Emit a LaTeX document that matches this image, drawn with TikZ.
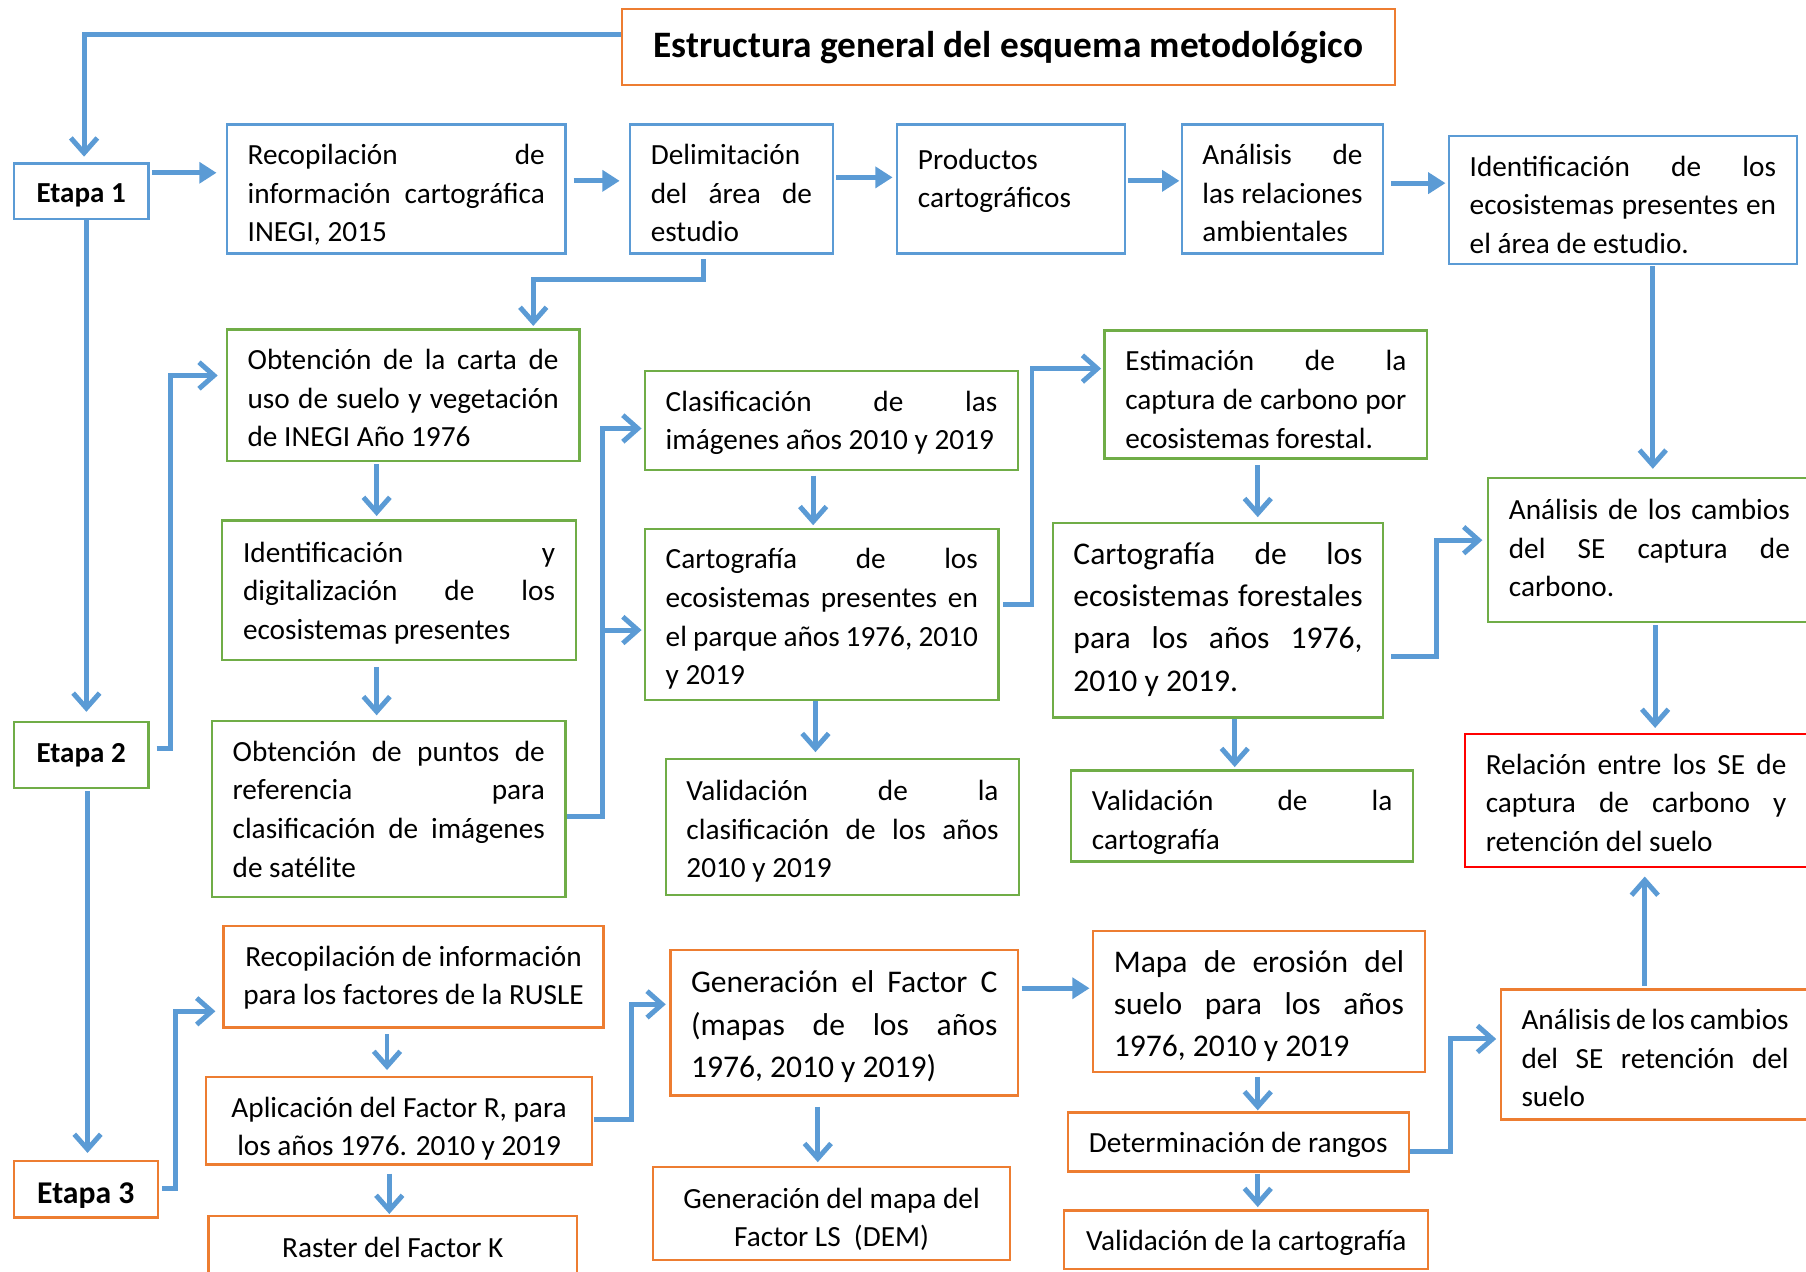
\documentclass[tikz,border=0pt]{standalone}
\usepackage{fontspec}
\setmainfont{Carlito}
\usetikzlibrary{arrows.meta}
\definecolor{cblue}{HTML}{5B9BD5}
\definecolor{cgreen}{HTML}{70AD47}
\definecolor{corange}{HTML}{ED7D31}
\definecolor{cred}{HTML}{FF0000}
\newcommand\fsm{\fontsize{25.4pt}{33.5pt}\selectfont\hyphenpenalty=10000 }
\newcommand\flg{\fontsize{27.4pt}{36.7pt}\selectfont\hyphenpenalty=10000 }
\newcommand\jl[1]{{\spaceskip=0pt\xspaceskip=0pt\makebox[\hsize][s]{#1}}}
\newcommand\nl[1]{\mbox{#1}}
\begin{document}
\begin{tikzpicture}[x={(1pt,0)},y={(0,-1pt)},
  box/.style={draw, line width=2pt, anchor=north west, inner xsep=18pt, inner ysep=0pt, font=\fsm, align=flush left, text height=35pt},
  cbox/.style={box, align=flush center, inner xsep=4pt},
  etapa/.style={draw, line width=2pt, anchor=north west, inner sep=0pt, font=\bfseries\fontsize{25.2pt}{30pt}\selectfont},
  conn/.style={draw=cblue, line width=4.3pt, line join=miter},
  barb/.style={-{Straight Barb[length=13pt,width=23pt]}},
  tri/.style={-{Triangle[length=15pt,width=18pt]}}]
\useasboundingbox (0,0) rectangle (1568,1104);

% title and stages
\node[draw=corange, line width=2pt, anchor=north west, minimum width=671pt, minimum height=66pt, inner sep=0pt, font=\bfseries\fontsize{32.4pt}{38pt}\selectfont] (title) at (539,7) {Estructura general del esquema metodológico};
\node[etapa, draw=cblue, minimum width=117pt, minimum height=48pt, text height=20pt, text depth=0pt] (e1) at (11,141) {Etapa 1};
\node[etapa, draw=cgreen, minimum width=117pt, minimum height=57pt] (e2) at (11,626) {Etapa 2};
\node[etapa, draw=corange, minimum width=125pt, minimum height=49pt, text height=25pt, text depth=0pt, font=\bfseries\fontsize{27.5pt}{32pt}\selectfont] (e3) at (11,1007) {Etapa 3};

% row 1 (blue)
\node[box, draw=cblue, text width=258pt, text depth=77pt] (recop) at (196,107) {\jl{Recopilación de}\\\jl{información cartográfica}\\\nl{INEGI, 2015}};
\node[box, draw=cblue, text width=140pt, text depth=77pt] (delim) at (546,107) {\nl{Delimitación}\\\jl{del área de}\\\nl{estudio}};
\node[box, draw=cblue, text width=162pt, text height=39pt, text depth=73pt] (prod) at (778,107) {\nl{Productos}\\\nl{cartográficos}};
\node[box, draw=cblue, text width=139pt, text depth=77pt] (anal) at (1025,107) {\jl{Análisis de}\\\jl{las relaciones}\\\nl{ambientales}};
\node[box, draw=cblue, text width=266pt, text depth=76pt] (ident) at (1257,117) {\jl{Identificación de los}\\\jl{ecosistemas presentes en}\\\nl{el área de estudio.}};

% green
\node[box, draw=cgreen, text width=270pt, text depth=79pt] (carta) at (196,285) {\jl{Obtención de la carta de}\\\jl{uso de suelo y vegetación}\\\nl{de INEGI Año 1976}};
\node[box, draw=cgreen, text width=271pt, text height=36pt, text depth=85pt] (idig) at (192,451) {\jl{Identificación y}\\\jl{digitalización de los}\\\nl{ecosistemas presentes}};
\node[box, draw=cgreen, text width=271pt, text depth=118pt] (puntos) at (183,625) {\jl{Obtención de puntos de}\\\jl{referencia para}\\\jl{clasificación de imágenes}\\\nl{de satélite}};
\node[box, draw=cgreen, text width=288pt, text depth=51pt] (clasif) at (559,321) {\jl{Clasificación de las}\\\nl{imágenes años 2010 y 2019}};
\node[box, draw=cgreen, text width=271pt, text depth=114pt] (cartp) at (559,458) {\jl{Cartografía de los}\\\jl{ecosistemas presentes en}\\\jl{el parque años 1976, 2010}\\\nl{y 2019}};
\node[box, draw=cgreen, text width=271pt, text height=36pt, text depth=82pt] (valc) at (577,658) {\jl{Validación de la}\\\jl{clasificación de los años}\\\nl{2010 y 2019}};
\node[box, draw=cgreen, text width=244pt, text depth=76pt] (estim) at (958,286) {\jl{Estimación de la}\\\jl{captura de carbono por}\\\nl{ecosistemas forestal.}};
\node[box, draw=cgreen, font=\flg, text width=251pt, text height=36pt, text depth=133pt] (cartf) at (913,453) {\jl{Cartografía de los}\\\jl{ecosistemas forestales}\\\jl{para los años 1976,}\\\nl{2010 y 2019.}};
\node[box, draw=cgreen, text width=261pt, text depth=44pt] (valcart) at (929,668) {\jl{Validación de la}\\\nl{cartografía}};
\node[box, draw=cgreen, text width=244pt, text height=36pt, text depth=89pt] (cambc) at (1291,414) {\jl{Análisis de los cambios}\\\jl{del SE captura de}\\\nl{carbono.}};
\node[box, draw=cred, text width=261pt, text depth=81pt] (rel) at (1271,636) {\jl{Relación entre los SE de}\\\jl{captura de carbono y}\\\nl{retención del suelo}};

% orange
\node[cbox, draw=corange, text width=322pt, text depth=53pt] (rusle) at (193,803) {\nl{Recopilación de información}\\\nl{para los factores de la RUSLE}};
\node[cbox, draw=corange, text width=327pt, text depth=41pt] (aplic) at (178,934) {\nl{Aplicación del Factor R, para}\\\nl{los años 1976. 2010 y 2019}};
\node[cbox, draw=corange, text width=312pt, text height=36pt, text depth=30pt] (raster) at (180,1055) {\nl{Raster del Factor K}};
\node[box, draw=corange, font=\flg, text width=266pt, text height=37pt, text depth=89pt] (genc) at (581,824) {\jl{Generación el Factor C}\\\jl{(mapas de los años}\\\nl{1976, 2010 y 2019)}};
\node[cbox, draw=corange, text width=302pt, text height=36pt, text depth=45pt] (genls) at (566,1012) {\nl{Generación del mapa del}\\\nl{Factor LS~ (DEM)}};
\node[box, draw=corange, font=\flg, text width=252pt, text height=36pt, text depth=87pt] (mapa) at (948,807) {\jl{Mapa de erosión del}\\\jl{suelo para los años}\\\nl{1976, 2010 y 2019}};
\node[cbox, draw=corange, text width=288pt, text depth=16pt] (deter) at (926,965) {\nl{Determinación de rangos}};
\node[cbox, draw=corange, text width=308pt, text depth=16pt] (valo) at (923,1050) {\nl{Validación de la cartografía}};
\node[box, draw=corange, text width=232pt, text depth=78pt] (cambr) at (1302,858) {\jl{Análisis de los cambios}\\\jl{del SE retención del}\\\nl{suelo}};

% junction coordinates
\coordinate (j1) at (523,547);

% connectors
\draw[conn,barb,shorten >=5pt] (title.west |- 0,30) -| (e1.north -| 73,0);
\draw[conn,tri,shorten <=2pt,shorten >=8pt] (e1.east |- 0,150) -- (recop.west |- 0,150);
\draw[conn,tri,shorten <=6pt,shorten >=8pt] (recop.east |- 0,157) -- (delim.west |- 0,157);
\draw[conn,tri,shorten <=2pt,shorten >=3pt] (delim.east |- 0,154) -- (prod.west |- 0,154);
\draw[conn,tri,shorten <=1pt,shorten >=1pt] (prod.east |- 0,157) -- (anal.west |- 0,157);
\draw[conn,tri,shorten <=6pt,shorten >=2pt] (anal.east |- 0,159) -- (ident.west |- 0,159);
\draw[conn,barb,shorten >=8pt] (e1.south -| 75,0) -- (e2.north -| 75,0);
\draw[conn,barb,shorten <=4pt,shorten >=2pt] (delim.south -| 611,0) -- (611,243) -| (carta.north -| 463,0);
\draw[conn,barb,shorten <=1pt,shorten >=7pt] (ident.south -| 1435,0) -- (cambc.north -| 1435,0);
\draw[conn,barb,shorten <=6pt,shorten >=7pt] (e2.east |- 0,650) -- (148,650) |- (carta.west |- 0,326);
\draw[conn,barb,shorten <=2pt,shorten >=3pt] (carta.south -| 327,0) -- (idig.north -| 327,0);
\draw[conn,barb,shorten <=5pt,shorten >=4pt] (idig.south -| 327,0) -- (puntos.north -| 327,0);
\draw[conn,barb,shorten >=2pt] (puntos.east |- 0,709) -- (523,709) |- (clasif.west |- 0,372);
\draw[conn,barb,shorten >=2pt] (j1) -- (cartp.west |- j1);
\draw[conn,barb,shorten <=4pt,shorten >=2pt] (clasif.south -| 706,0) -- (cartp.north -| 706,0);
\draw[conn,barb,shorten >=5pt] (cartp.south -| 708,0) -- (valc.north -| 708,0);
\draw[conn,barb,shorten <=3pt,shorten >=2pt] (cartp.east |- 0,525) -- (896,525) |- (estim.west |- 0,320);
\draw[conn,barb,shorten <=5pt,shorten >=4pt] (estim.south -| 1092,0) -- (cartf.north -| 1092,0);
\draw[conn,barb,shorten >=2pt] (cartf.south -| 1072,0) -- (valcart.north -| 1072,0);
\draw[conn,barb,shorten <=6pt,shorten >=4pt] (cartf.east |- 0,570) -- (1247,570) |- (cambc.west |- 0,469);
\draw[conn,barb,shorten <=2pt,shorten >=4pt] (cambc.south -| 1437,0) -- (rel.north -| 1437,0);
\draw[conn,barb,shorten <=2pt,shorten >=6pt] (e2.south -| 76,0) -- (e3.north -| 76,0);
\draw[conn,barb,shorten <=3pt,shorten >=6pt] (e3.east |- 0,1032) -- (152,1032) |- (rusle.west |- 0,878);
\draw[conn,barb,shorten <=5pt,shorten >=5pt] (rusle.south -| 336,0) -- (aplic.north -| 336,0);
\draw[conn,barb,shorten <=7pt,shorten >=1pt] (aplic.south -| 338,0) -- (raster.north -| 338,0);
\draw[conn,barb,shorten <=1pt,shorten >=3pt] (aplic.east |- 0,972) -- (548,972) |- (genc.west |- 0,872);
\draw[conn,barb,shorten <=9pt,shorten >=3pt] (genc.south -| 710,0) -- (genls.north -| 710,0);
\draw[conn,tri,shorten <=2pt,shorten >=2pt] (genc.east |- 0,858) -- (mapa.west |- 0,858);
\draw[conn,barb,shorten <=3pt,shorten >=1pt] (mapa.south -| 1092,0) -- (deter.north -| 1092,0);
\draw[conn,barb,shorten <=1pt,shorten >=2pt] (deter.south -| 1092,0) -- (valo.north -| 1092,0);
\draw[conn,barb,shorten >=3pt] (deter.east |- 0,1000) -- (1259,1000) |- (cambr.west |- 0,902);
\draw[conn,barb,shorten <=2pt,shorten >=7pt] (cambr.north -| 1428,0) -- (rel.south -| 1428,0);
\end{tikzpicture}
\end{document}
